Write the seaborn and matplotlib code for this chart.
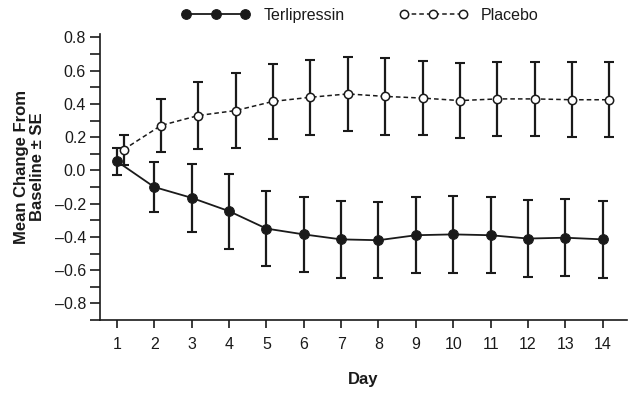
import matplotlib
matplotlib.use("Agg")
import numpy as np
import pandas as pd
import matplotlib.pyplot as plt
import seaborn as sns
from matplotlib.ticker import MultipleLocator

days = list(range(1, 15))

terli_mean = [0.055, -0.10, -0.165, -0.245, -0.35, -0.385, -0.415,
              -0.42, -0.39, -0.385, -0.39, -0.41, -0.405, -0.415]
terli_se = [0.08, 0.15, 0.205, 0.225, 0.225, 0.225, 0.23,
            0.23, 0.23, 0.23, 0.23, 0.23, 0.23, 0.23]

placebo_mean = [0.125, 0.27, 0.33, 0.36, 0.415, 0.44, 0.46,
                0.445, 0.435, 0.42, 0.43, 0.43, 0.425, 0.425]
placebo_se = [0.09, 0.16, 0.2, 0.225, 0.225, 0.225, 0.225,
              0.23, 0.225, 0.225, 0.225, 0.225, 0.225, 0.225]

y_ticks = [-0.8, -0.6, -0.4, -0.2, 0.0, 0.2, 0.4, 0.6, 0.8]

sns.set_style("ticks")
plt.rcParams["font.family"] = ["Liberation Sans", "DejaVu Sans"]

df_t = pd.DataFrame({"day": days, "mean": terli_mean, "se": terli_se})
df_p = pd.DataFrame({"day": days, "mean": placebo_mean, "se": placebo_se})
# placebo points are drawn slightly to the right of the day tick
df_p["x"] = df_p["day"] + 0.18

ink = "#1a1a1a"

fig = plt.figure(figsize=(6.35, 4.01), dpi=100)
ax = fig.add_axes([0.1575, 0.202, 0.83, 0.713])

ax.errorbar(df_t["day"], df_t["mean"], yerr=df_t["se"], fmt="none",
            ecolor=ink, elinewidth=1.6, capsize=3.5, capthick=1.5, zorder=2)
ax.errorbar(df_p["x"], df_p["mean"], yerr=df_p["se"], fmt="none",
            ecolor=ink, elinewidth=1.6, capsize=3.5, capthick=1.5, zorder=2)

sns.lineplot(data=df_t, x="day", y="mean", ax=ax, color=ink,
             marker="o", markersize=7, markerfacecolor=ink,
             markeredgecolor=ink, linewidth=1.3, label="Terlipressin",
             zorder=3)
sns.lineplot(data=df_p, x="x", y="mean", ax=ax, color=ink,
             marker="o", markersize=6, markerfacecolor="white",
             markeredgecolor=ink, markeredgewidth=1.1, linewidth=1.1,
             linestyle=(0, (3, 2)), label="Placebo", zorder=3)

ax.set_xlim(0.55, 14.65)
ax.set_ylim(-0.9, 0.82)
ax.set_xticks(days)
ax.set_xticklabels([str(d) for d in days])
ax.set_yticks(y_ticks)
ax.set_yticklabels([f"{v:.1f}".replace("-", "\u2013") for v in y_ticks])
ax.yaxis.set_minor_locator(MultipleLocator(0.1))

sns.despine(ax=ax)
for side in ["left", "bottom"]:
    ax.spines[side].set_linewidth(1.2)
    ax.spines[side].set_color(ink)
ax.tick_params(axis="both", which="major", labelsize=11.5, width=1.2,
               color=ink, labelcolor=ink)
ax.tick_params(axis="y", which="major", length=7, pad=3)
ax.tick_params(axis="y", which="minor", length=7, width=1.2, color=ink)
ax.tick_params(axis="x", which="major", length=6, pad=6)

ax.set_xlabel("Day", fontsize=12, fontweight="bold", labelpad=15, color=ink)
ax.set_ylabel("")
fig.text(0.047, 0.584, "Mean Change From\nBaseline \u00b1 SE", rotation=90,
         ha="center", va="center", fontsize=12, fontweight="bold",
         linespacing=1.1, color=ink)

handles, labels = ax.get_legend_handles_labels()
ax.get_legend().remove()
fig.legend(handles, labels, loc="center", bbox_to_anchor=(0.567, 0.962),
           ncol=2, frameon=False, fontsize=11.5, numpoints=3, handlelength=4.3,
           handletextpad=0.85, columnspacing=3.4, labelcolor=ink)

fig.savefig("out.png", dpi=100)
